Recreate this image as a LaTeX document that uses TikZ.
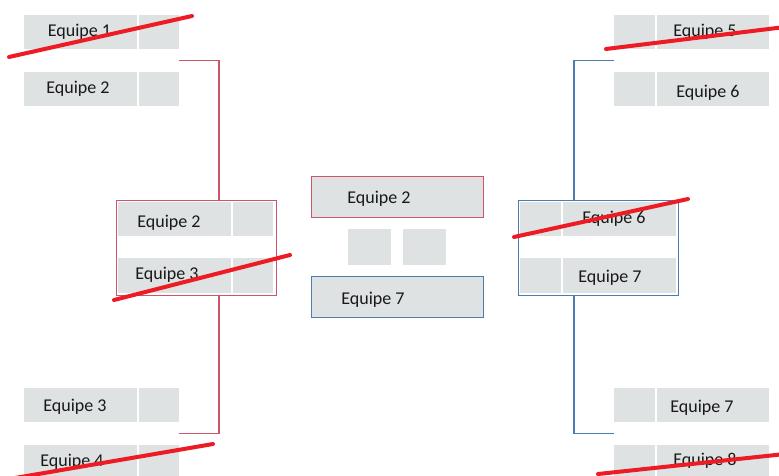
\documentclass[tikz,border=0pt]{standalone}
\usepackage{fontspec}
\setmainfont{Carlito}
\usetikzlibrary{calc}
\definecolor{cellgray}{RGB}{222,226,227}
\definecolor{bred}{RGB}{205,85,105}
\definecolor{bblue}{RGB}{75,125,175}
\definecolor{strikec}{RGB}{237,28,36}
\definecolor{txtc}{RGB}{25,25,25}
\newcommand\mkcell[5]{\node[cell, minimum width={(#4)-(#2)}, minimum height={(#5)-(#3)}] (#1) at (#2,#3) {};}
\begin{document}
\begin{tikzpicture}[x=1pt,y=-1pt,
  cell/.style={fill=cellgray, draw=none, inner sep=0, anchor=north west},
  frame/.style={inner sep=0, anchor=north west, line width=1.2pt},
  txt/.style={anchor=base, inner sep=0, font=\fontsize{18}{20}\selectfont, text=txtc},
  redc/.style={draw=bred, line width=1.3pt},
  bluec/.style={draw=bblue, line width=1.3pt},
  strikeline/.style={draw=strikec, line width=4pt, line cap=round}]
\useasboundingbox (0,0) rectangle (779,476);
\clip (0,0) rectangle (779,476);
\fill[white] (0,0) rectangle (779,476);
% left column
\mkcell{n1}{24}{15}{137}{49}\mkcell{s1}{139}{15}{179}{49}
\mkcell{n2}{24}{72}{137}{106}\mkcell{s2}{139}{72}{179}{106}
\mkcell{n3}{24}{388}{137}{422}\mkcell{s3}{139}{388}{179}{422}
\mkcell{n4}{24}{445}{137}{479}\mkcell{s4}{139}{445}{179}{479}
\node[txt] (t1) at (79.5,37) {Equipe 1};
\node[txt] (t2) at (78,94) {Equipe 2};
\node[txt] (t3) at (75,411) {Equipe 3};
\node[txt] (t4) at (72,466) {Equipe 4};
% right column
\mkcell{r5s}{614}{15}{655}{49}\mkcell{r5n}{657}{15}{769}{49}
\mkcell{r6s}{614}{72}{655}{106}\mkcell{r6n}{657}{72}{769}{106}
\mkcell{r7s}{614}{388}{655}{422}\mkcell{r7n}{657}{388}{769}{422}
\mkcell{r8s}{614}{445}{655}{479}\mkcell{r8n}{657}{445}{769}{479}
\node[txt] (t5) at (705,37) {Equipe 5};
\node[txt] (t6) at (708,98) {Equipe 6};
\node[txt] (t7) at (702,412) {Equipe 7};
\node[txt] (t8) at (705,465) {Equipe 8};
% middle-left semi-final
\node[frame, draw=bred, fill=white, minimum width=160, minimum height=95] (mlb) at (115.5,200) {};
\mkcell{ml2n}{118}{202}{231}{236}\mkcell{ml2s}{233}{202}{273}{236}
\mkcell{ml3n}{118}{258}{231}{293}\mkcell{ml3s}{233}{258}{273}{293}
\node[txt] (tml2) at (169,227) {Equipe 2};
\node[txt] (tml3) at (167,279) {Equipe 3};
% middle-right semi-final
\node[frame, draw=bblue, fill=white, minimum width=160, minimum height=95] (mrb) at (518,200) {};
\mkcell{mr6s}{520}{202}{561}{236}\mkcell{mr6n}{563}{202}{676}{236}
\mkcell{mr7s}{520}{258}{561}{293}\mkcell{mr7n}{563}{258}{676}{293}
\node[txt] (tmr6) at (614,223) {Equipe 6};
\node[txt] (tmr7) at (610,282) {Equipe 7};
% final
\node[frame, draw=bred, fill=cellgray, minimum width=172, minimum height=41] (f2) at (311,176) {};
\node[frame, draw=bblue, fill=cellgray, minimum width=172, minimum height=41] (f7) at (311,276) {};
\mkcell{fs1}{348}{229}{391}{265}\mkcell{fs2}{403}{229}{446}{265}
\node[txt] (tf2) at (379,203) {Equipe 2};
\node[txt] (tf7) at (373,304) {Equipe 7};
% brackets
\coordinate (lx) at (219,0);
\coordinate (rx) at (574,0);
\draw[redc] ($(s1.south east)!0.5!(s2.north east)$) -| (lx |- mlb.north);
\draw[redc] (lx |- mlb.south) |- ($(s3.south east)!0.5!(s4.north east)$);
\draw[bluec] ($(r5s.south west)!0.5!(r6s.north west)$) -| (rx |- mrb.north);
\draw[bluec] (rx |- mrb.south) |- ($(r7s.south west)!0.5!(r8s.north west)$);
% strike-throughs
\draw[strikeline] (9,57) -- (192,16);
\draw[strikeline] (114,300) -- (290,255);
\draw[strikeline] (15,478) -- (213,444);
\draw[strikeline] (606,49) -- (785,27);
\draw[strikeline] (514,237) -- (688,199);
\draw[strikeline] (598,474) -- (785,454);
\end{tikzpicture}
\end{document}
